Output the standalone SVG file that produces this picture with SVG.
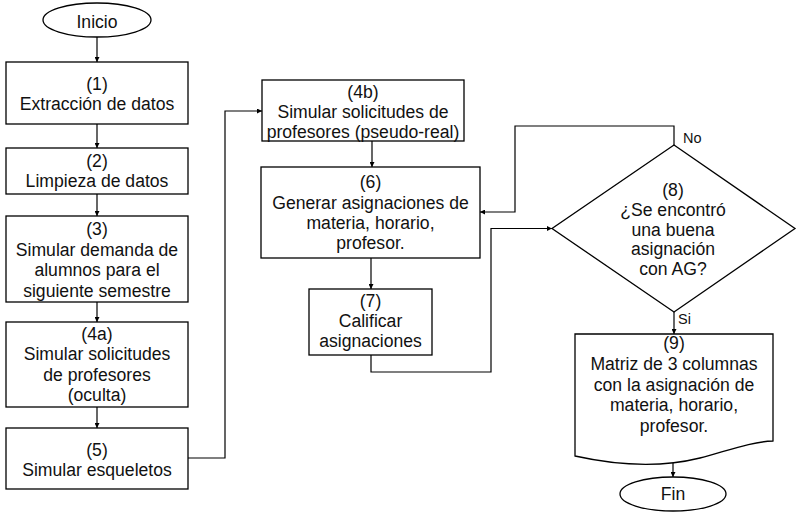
<svg xmlns="http://www.w3.org/2000/svg" width="802" height="518" viewBox="0 0 802 518">
<style>
.s{fill:#fff;stroke:#000;stroke-width:1.3}
.t{font-family:"Liberation Sans",Arial,sans-serif;font-size:17.6px;fill:#111;text-anchor:middle}
.l{font-family:"Liberation Sans",Arial,sans-serif;font-size:14.5px;fill:#111}
.c{fill:none;stroke:#000;stroke-width:1.2}
</style>
<defs>
<marker id="a" viewBox="0 0 8 8" refX="8" refY="4" markerWidth="5" markerHeight="5" markerUnits="userSpaceOnUse" orient="auto"><path d="M0,0 L8,4 L0,8 z" fill="#000"/></marker>
</defs>
<rect width="802" height="518" fill="#fff"/>
<g id="connectors">
<path class="c" d="M97,37 V62" marker-end="url(#a)"/>
<path class="c" d="M97,124 V148" marker-end="url(#a)"/>
<path class="c" d="M97,194 V216" marker-end="url(#a)"/>
<path class="c" d="M97,302 V322" marker-end="url(#a)"/>
<path class="c" d="M97,407 V428" marker-end="url(#a)"/>
<path class="c" d="M188,458 H225 V111 H262" marker-end="url(#a)"/>
<path class="c" d="M372,141 V167" marker-end="url(#a)"/>
<path class="c" d="M371,258 V289" marker-end="url(#a)"/>
<path class="c" d="M371,355 V372 H491 V228.5 H552" marker-end="url(#a)"/>
<path class="c" d="M674,145 V126 H515 V212 H480" marker-end="url(#a)"/>
<path class="c" d="M674,312 V334" marker-end="url(#a)"/>
<path class="c" d="M673,463 V477" marker-end="url(#a)"/>
<text class="l" x="683" y="143">No</text>
<text class="l" x="678" y="324">Si</text>
</g>
<g id="inicio">
<ellipse class="s" cx="97" cy="20" rx="54" ry="17"/>
<text class="t" x="97" y="28">Inicio</text>
</g>
<g id="n1">
<rect class="s" x="6" y="62" width="182" height="62"/>
<text class="t" x="97" y="89.5">(1)</text>
<text class="t" x="97" y="109.5">Extracción de datos</text>
</g>
<g id="n2">
<rect class="s" x="6" y="148" width="182" height="46"/>
<text class="t" x="97" y="167">(2)</text>
<text class="t" x="97" y="187">Limpieza de datos</text>
</g>
<g id="n3">
<rect class="s" x="6" y="216" width="182" height="86"/>
<text class="t" x="97" y="235">(3)</text>
<text class="t" x="97" y="255.5">Simular demanda de</text>
<text class="t" x="97" y="276">alumnos para el</text>
<text class="t" x="97" y="296.5">siguiente semestre</text>
</g>
<g id="n4a">
<rect class="s" x="6" y="322" width="182" height="85"/>
<text class="t" x="97" y="340">(4a)</text>
<text class="t" x="97" y="360">Simular solicitudes</text>
<text class="t" x="97" y="380.5">de profesores</text>
<text class="t" x="97" y="400.5">(oculta)</text>
</g>
<g id="n5">
<rect class="s" x="6" y="428" width="182" height="61"/>
<text class="t" x="97" y="455.5">(5)</text>
<text class="t" x="97" y="475.5">Simular esqueletos</text>
</g>
<g id="n4b">
<rect class="s" x="262" y="80" width="202" height="61"/>
<text class="t" x="363" y="97.5">(4b)</text>
<text class="t" x="363" y="117.5">Simular solicitudes de</text>
<text class="t" x="363" y="137.5">profesores (pseudo-real)</text>
</g>
<g id="n6">
<rect class="s" x="261" y="167" width="219" height="91"/>
<text class="t" x="370.5" y="188">(6)</text>
<text class="t" x="370.5" y="208.5">Generar asignaciones de</text>
<text class="t" x="370.5" y="229">materia, horario,</text>
<text class="t" x="370.5" y="249">profesor.</text>
</g>
<g id="n7">
<rect class="s" x="309" y="289" width="123" height="66"/>
<text class="t" x="370.5" y="306.5">(7)</text>
<text class="t" x="370.5" y="327">Calificar</text>
<text class="t" x="370.5" y="347">asignaciones</text>
</g>
<g id="n8">
<polygon class="s" points="674,145 795,228.5 674,312 552,228.5"/>
<text class="t" x="673" y="196">(8)</text>
<text class="t" x="673" y="216">¿Se encontró</text>
<text class="t" x="673" y="235.5">una buena</text>
<text class="t" x="673" y="255">asignación</text>
<text class="t" x="673" y="274.5">con AG?</text>
</g>
<g id="n9">
<path class="s" d="M575,334 H773 V441 C 750,442 730,450 700,458 C 660,468 620,466 575,456 Z"/>
<text class="t" x="674" y="348.5">(9)</text>
<text class="t" x="674" y="369.5">Matriz de 3 columnas</text>
<text class="t" x="674" y="390.5">con la asignación de</text>
<text class="t" x="674" y="411">materia, horario,</text>
<text class="t" x="674" y="432">profesor.</text>
</g>
<g id="fin">
<ellipse class="s" cx="673" cy="494" rx="53" ry="17"/>
<text class="t" x="673" y="500">Fin</text>
</g>
</svg>
